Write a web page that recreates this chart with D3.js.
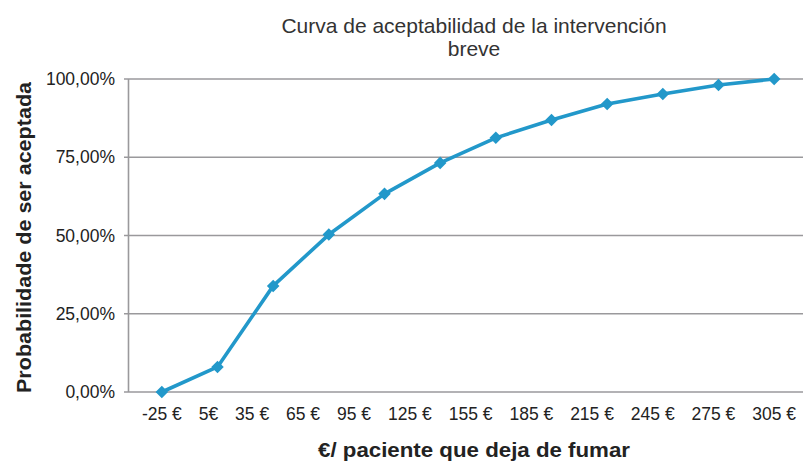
<!DOCTYPE html>
<html><head><meta charset="utf-8">
<script src="https://cdn.jsdelivr.net/npm/d3@7"></script>
<style>body{margin:0;background:#fff}svg{display:block}text{font-family:"Liberation Sans",Arial,sans-serif}</style>
</head><body><svg id="c" width="803" height="461"></svg>
<script>
const categories = ["-25 €","5€","35 €","65 €","95 €","125 €","155 €","185 €","215 €","245 €","275 €","305 €"];
const values = [0, 8.0, 33.9, 50.3, 63.3, 73.2, 81.2, 86.9, 92.0, 95.2, 98.1, 100];
const yTicks = [0, 25, 50, 75, 100];
const yTickLabels = ["0,00%","25,00%","50,00%","75,00%","100,00%"];
const title = ["Curva de aceptabilidad de la intervención","breve"];
const xTitle = "€/ paciente que deja de fumar";
const yTitle = "Probabilidade de ser aceptada";

const svg = d3.select("#c");
const x = d3.scalePoint().domain(categories).range([134, 802]).padding(0.5);
const y = d3.scaleLinear().domain([0,100]).range([392, 79]);
const gridColor = "#9a999c";
const lineColor = "#2298ca";

// gridlines + ticks
svg.append("g").selectAll("line").data(yTicks).join("line")
  .attr("x1",124).attr("x2",803).attr("y1",d=>y(d)).attr("y2",d=>y(d))
  .attr("stroke",gridColor).attr("stroke-width",1.6);
// y axis line
svg.append("line").attr("x1",128.5).attr("x2",128.5).attr("y1",y(100)).attr("y2",y(0))
  .attr("stroke",gridColor).attr("stroke-width",1.6);
// y tick labels
svg.append("g").selectAll("text").data(yTicks).join("text")
  .attr("x",115).attr("y",d=>y(d)).attr("dy","0.35em").attr("text-anchor","end")
  .attr("font-size",17.5).attr("fill","#222").text((d,i)=>yTickLabels[i]);

// x tick labels: flowed like a justified line between first and last category positions
const xl = svg.append("g").selectAll("text").data(categories).join("text")
  .attr("y",420).attr("text-anchor","start")
  .attr("font-size",17.5).attr("fill","#222").text(d=>d);
const widths = xl.nodes().map(n=>n.getComputedTextLength());
const start = x(categories[0]) - widths[0]/2;
const end = x(categories[categories.length-1]) + widths[widths.length-1]/2;
const gap = (end - start - d3.sum(widths)) / (categories.length-1);
let cur = start;
xl.each(function(d,i){ d3.select(this).attr("x",cur); cur += widths[i] + gap; });

// line
const line = d3.line().x((d,i)=>x(categories[i])).y(d=>y(d));
svg.append("path").datum(values).attr("d",line).attr("fill","none")
  .attr("stroke",lineColor).attr("stroke-width",3.6).attr("stroke-linejoin","round");
// markers
const sym = d3.symbol().type(d3.symbolDiamond2).size(100);
svg.append("g").selectAll("path").data(values).join("path")
  .attr("transform",(d,i)=>`translate(${x(categories[i])},${y(d)})`)
  .attr("d",sym).attr("fill",lineColor);

// title
svg.append("g").selectAll("text").data(title).join("text")
  .attr("x",474).attr("y",(d,i)=>33+i*23.3).attr("text-anchor","middle")
  .attr("font-size",21).attr("fill","#333").text(d=>d);
// axis titles
svg.append("text").attr("x",474).attr("y",457).attr("text-anchor","middle")
  .attr("font-size",20).attr("font-weight","bold").attr("fill","#222")
  .attr("textLength",312).attr("lengthAdjust","spacingAndGlyphs").text(xTitle);
svg.append("text").attr("transform","translate(31,237.5) rotate(-90)").attr("text-anchor","middle")
  .attr("font-size",20).attr("font-weight","bold").attr("fill","#222")
  .attr("textLength",311).attr("lengthAdjust","spacingAndGlyphs").text(yTitle);
</script></body></html>
